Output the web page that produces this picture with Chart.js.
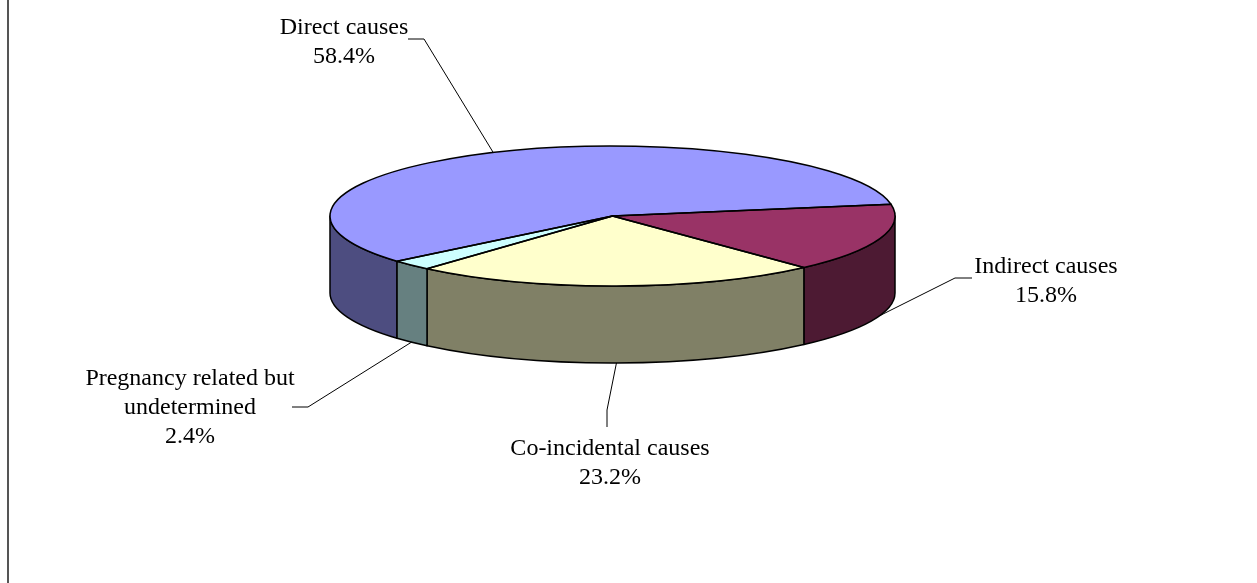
<!DOCTYPE html>
<html>
<head>
<meta charset="utf-8">
<script src="https://cdn.jsdelivr.net/npm/chart.js@4.4.0/dist/chart.umd.min.js"></script>
<style>
  html, body { margin: 0; padding: 0; background: #ffffff; overflow: hidden; }
  canvas { display: block; }
</style>
</head>
<body>
<canvas id="c" width="1257" height="583"></canvas>
<script>
// Causes of maternal death, share of all deaths (%)
const categories = ['Direct causes', 'Indirect causes', 'Co-incidental causes', ['Pregnancy related but', 'undetermined']];
const shares = [58.4, 15.8, 23.2, 2.4];
const topColours = ['#9999FF', '#993366', '#FFFFCC', '#CCFFFF'];
const sideColours = ['#4D4D80', '#4D1A33', '#808066', '#668080'];

// Label placement: centre x, first baseline, leader elbow and leader end
const labelPlaces = [
  { x: 344,  y: 34,  elbow: [424, 39],  end: [408, 39] },
  { x: 1046, y: 273, elbow: [955, 278], end: [972, 278] },
  { x: 610,  y: 455, elbow: [607, 410], end: [607, 427] },
  { x: 190,  y: 385, elbow: [308, 407], end: [292, 407] }
];

// Tilted disc: screen centre of the top face, its radii and the wall height
const disc = { cx: 612.5, cy: 216, rx: 282.5, ry: 70, depth: 77 };
const TWO_PI = Math.PI * 2;

function tiltTransform(ctx, el) {
  ctx.translate(disc.cx, disc.cy);
  ctx.scale(disc.rx / el.outerRadius, disc.ry / el.outerRadius);
  ctx.translate(-el.x, -el.y);
}

function drawWall(ctx, a1, a2, colour) {
  ctx.beginPath();
  ctx.ellipse(disc.cx, disc.cy, disc.rx, disc.ry, 0, a1, a2, false);
  ctx.ellipse(disc.cx, disc.cy + disc.depth, disc.rx, disc.ry, 0, a2, a1, true);
  ctx.closePath();
  ctx.fillStyle = colour;
  ctx.fill();
  ctx.lineWidth = 1.5;
  ctx.lineJoin = 'round';
  ctx.strokeStyle = '#000000';
  ctx.stroke();
}

const tiltedPie = {
  id: 'tiltedPie',
  beforeDatasetsDraw(chart) {
    const ctx = chart.ctx;
    const arcs = chart.getDatasetMeta(0).data;
    ctx.save();
    arcs.forEach((el, i) => {
      let s = el.startAngle % TWO_PI;
      if (s < 0) s += TWO_PI;
      const e = s + (el.endAngle - el.startAngle);
      [[0, Math.PI], [TWO_PI, TWO_PI + Math.PI]].forEach(([lo, hi]) => {
        const a1 = Math.max(s, lo), a2 = Math.min(e, hi);
        if (a2 > a1) drawWall(ctx, a1, a2, sideColours[i]);
      });
    });
    ctx.restore();
  },
  beforeDatasetDraw(chart) {
    const ctx = chart.ctx;
    const el = chart.getDatasetMeta(0).data[0];
    ctx.save();
    tiltTransform(ctx, el);
  },
  afterDatasetDraw(chart) {
    chart.ctx.restore();
  },
  afterDatasetsDraw(chart) {
    const ctx = chart.ctx;
    chart.getDatasetMeta(0).data.forEach(el => {
      ctx.save();
      tiltTransform(ctx, el);
      ctx.beginPath();
      ctx.moveTo(el.x, el.y);
      ctx.arc(el.x, el.y, el.outerRadius, el.startAngle, el.endAngle);
      ctx.closePath();
      ctx.restore();
      ctx.save();
      ctx.lineWidth = 1.5;
      ctx.lineJoin = 'round';
      ctx.strokeStyle = '#000000';
      ctx.stroke();
      ctx.restore();
    });
  },
  afterDraw(chart) {
    const ctx = chart.ctx;
    const arcs = chart.getDatasetMeta(0).data;
    ctx.save();
    // frame edge
    ctx.fillStyle = '#555555';
    ctx.fillRect(7, 0, 2, chart.height);

    ctx.font = '24px "Liberation Serif", "Times New Roman", serif';
    ctx.textAlign = 'center';
    ctx.textBaseline = 'alphabetic';
    ctx.fillStyle = '#000000';
    arcs.forEach((el, i) => {
      const place = labelPlaces[i];
      const name = chart.data.labels[i];
      const lines = (Array.isArray(name) ? name.slice() : [name]);
      lines.push(chart.data.datasets[0].data[i].toFixed(1) + '%');
      lines.forEach((t, k) => ctx.fillText(t, place.x, place.y + k * 29));

      // leader line from the slice to its label
      const mid = (el.startAngle + el.endAngle) / 2;
      let ax = disc.cx + disc.rx * Math.cos(mid);
      let ay = disc.cy + disc.ry * Math.sin(mid);
      if (Math.sin(mid) > 0) ay += disc.depth;
      ctx.beginPath();
      ctx.moveTo(ax, ay);
      ctx.lineTo(place.elbow[0], place.elbow[1]);
      ctx.lineTo(place.end[0], place.end[1]);
      ctx.lineWidth = 1;
      ctx.strokeStyle = '#000000';
      ctx.stroke();
    });
    ctx.restore();
  }
};

new Chart(document.getElementById('c'), {
  type: 'pie',
  data: {
    labels: categories,
    datasets: [{
      data: shares,
      backgroundColor: topColours,
      borderWidth: 0,
      clip: false
    }]
  },
  options: {
    responsive: false,
    animation: false,
    events: [],
    rotation: 229.7,
    layout: { padding: 0 },
    plugins: {
      legend: { display: false },
      tooltip: { enabled: false }
    }
  },
  plugins: [tiltedPie]
});
</script>
</body>
</html>
